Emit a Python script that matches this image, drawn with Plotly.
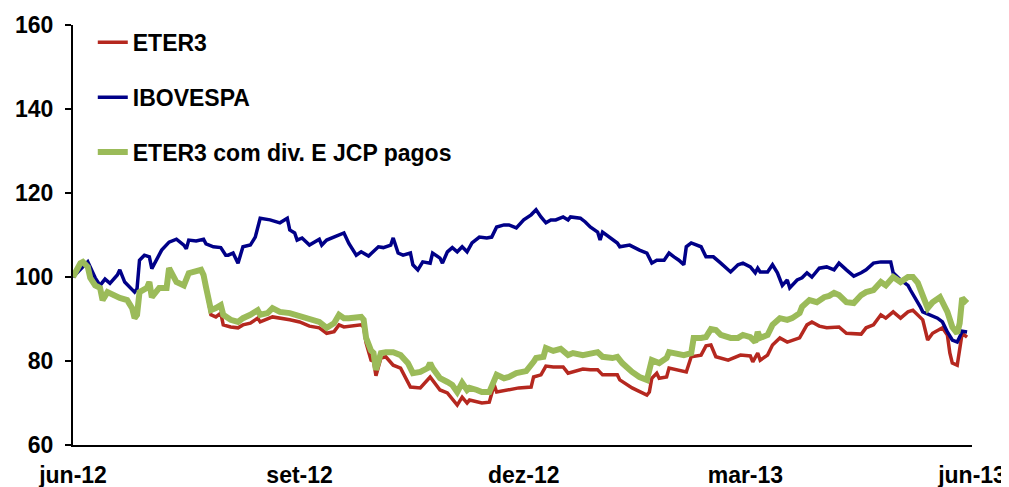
import pandas as pd
import plotly.graph_objects as go

START = "2012-06-01"

# ETER3 with dividends and JCP paid (green) - days since START, index values
green_days = [0, 3, 4, 6, 7, 9, 11, 12, 14, 16, 19, 22, 24, 25, 26, 27, 30, 31, 32, 35, 38, 39, 41, 42, 45, 46, 47, 52, 53,
              54, 56, 58, 60, 61, 64, 67, 69, 72, 75, 76, 79, 81, 84, 88, 92, 96, 100, 103, 106, 108, 110, 112, 117, 118,
              119, 121, 122, 123, 125, 127, 130, 133, 136, 138, 141, 144, 145, 146, 149, 152, 154, 156, 158, 160, 161,
              164, 166, 169, 171, 172, 175, 177, 180, 184, 187, 188, 191, 192, 195, 198, 201, 203, 207, 210, 213, 215,
              219, 221, 223, 227, 230, 233, 234, 235, 238, 241, 242, 245, 248, 251, 252, 255, 257, 259, 261, 263, 267,
              270, 272, 275, 277, 278, 279, 282, 284, 287, 290, 292, 295, 296, 299, 302, 305, 307, 309, 311, 314, 317,
              320, 322, 325, 328, 330, 333, 336, 339, 341, 343, 345, 347, 349, 352, 355, 357, 359, 360, 361, 363]
green_vals = [100, 103.3, 103.6, 102.4, 99.8, 98, 97.4, 94.5, 96.4, 95.7, 95, 94.5, 92.6, 90.2, 91, 96.4, 97.4, 98.8, 95.2,
              97.4, 97.4, 102.1, 100, 98.8, 98, 99.8, 100.9, 101.7, 100.5,
              97.6, 92.1, 92.6, 93.3, 91, 89.8, 89.3, 90.2, 91, 92.1, 91, 91.4, 92.6, 91.7, 91.4, 90.7, 90.2, 89.3, 87.9,
              89, 91, 90.2, 90.2, 90.5, 89.8,
              85.5, 82.5, 81.9, 77.9, 81.9, 82.1, 82.1, 81.4, 79.5, 77.1, 77.4, 78.3, 79.5, 78.3, 75.9, 75, 74.3, 72.6,
              74.8, 73.1, 73.6, 73.1, 72.6, 72.6, 75.5, 76.7, 75.9, 76.2, 77.1, 77.6, 79.8, 80.7, 81, 83.1, 82.4, 82.9,
              81.4, 81.9, 81.4, 81.9, 82.1, 81, 80.7, 81, 79.5, 77.4, 76.2, 75.5, 77.4, 80.2, 79.5, 80.7, 82.1, 81.9,
              81.4, 81.9, 85.5, 85.5, 85.7, 87.6, 87.4, 86.2, 85.5, 85.5, 86.2, 85.7, 84.5, 86.9, 85.5, 86.2, 88.6, 90.2,
              89.8, 90.2, 91.4, 92.9, 94.5, 94, 95.2, 95.5, 96.2, 95.7, 94, 93.8, 95.7, 96.4, 96.9, 98.8, 98, 100, 98.8,
              100, 100, 98.6, 95.7, 92.6, 94, 95.2, 91.7, 88.1, 86.6, 89, 95, 93.8]

# ETER3 (red)
eter3_days = [0, 3, 4, 6, 7, 9, 11, 12, 14, 16, 19, 22, 24, 25, 26, 27, 30, 31, 32, 35, 38, 39, 41, 42, 45, 46, 47, 52, 53,
              54, 56, 58, 60, 61, 64, 67, 69, 72, 75, 76, 81, 88, 92, 96, 100, 103, 106, 108, 110, 117, 118, 119, 121,
              122, 123, 125, 127, 130, 133, 137, 141, 145, 149, 152, 156, 158, 160, 161, 166, 169, 171, 172, 177, 181,
              186, 187, 190, 192, 195, 199, 201, 205, 207, 210, 213, 215, 221, 222, 227, 233, 234, 235, 237, 238, 241,
              242, 246, 249, 251, 255, 257, 259, 261, 266, 271, 275, 276, 278, 279, 282, 284, 287, 290, 295, 298, 300,
              303, 306, 311, 314, 320, 322, 325, 328, 330, 333, 336, 339, 341, 343, 345, 347, 349, 353, 355, 356, 357,
              359, 360, 361, 363]
eter3_vals = [100, 103.3, 103.6, 102.4, 99.8, 98, 97.4, 94.5, 96.4, 95.7, 95, 94.5, 92.6, 90.2, 91, 96.4, 97.4, 98.8, 95.2,
              97.4, 97.4, 102.1, 100, 98.8, 98, 99.8, 100.9, 101.7, 100.5,
              97, 91, 90.5, 91.4, 88.6, 88.1, 87.9, 88.6, 89, 90.2, 89.3, 90.5, 89.8, 89.3, 88.3, 87.9, 86.6, 87, 88.6,
              88.1, 88.6, 88.1, 84.3, 80.2, 80, 76.5, 80.7, 81, 79, 78.3, 73.8, 73.6, 76.2, 73.1, 72.4, 69.5, 71.4, 70,
              70.7, 70, 70.2, 74.3, 72.6, 73.1, 73.6, 73.8, 76.2, 76.7, 78.8, 78.6, 78.6, 77.1, 77.9, 78.1, 77.9, 77.9,
              76.7, 76.7, 75.5, 73.6, 71.9, 72.6, 75.9, 77.1, 75.9, 76.2, 78.3, 77.9, 77.4, 81, 81.4, 83.6, 83.8, 81,
              80.2, 81.4, 81.2, 79.8, 81.9, 80.2, 81.4, 83.8, 85.5, 84.5, 85.5, 88.6, 89.3, 88.3, 87.9, 88.1, 86.6,
              86.4, 87.9, 88.6, 91, 90.2, 91.7, 90.2, 91.7, 92.1, 91, 89.8, 85, 86.6, 87.9, 86.2, 81.9, 79.5, 79, 83.3,
              86.6, 85.7]

# IBOVESPA (blue)
ibov_days = [0, 6, 9, 11, 13, 15, 18, 19, 21, 23, 25, 26, 27, 29, 31, 32, 34, 36, 39, 42, 45, 46, 47, 50, 53, 54, 57, 60,
             62, 63, 65, 67, 69, 72, 74, 76, 80, 84, 87, 88, 90, 91, 93, 96, 100, 101, 103, 108, 110, 112, 115, 117, 120,
             124, 126, 129, 130, 132, 134, 137, 138, 140, 142, 145, 146, 149, 150, 152, 154, 156, 158, 160, 162, 165,
             168, 170, 172, 175, 177, 180, 183, 186, 188, 190, 192, 194, 196, 199, 201, 202, 206, 208, 210, 213, 214,
             215, 218, 221, 222, 226, 230, 233, 235, 237, 240, 242, 244, 246, 248, 249, 251, 255, 257, 260, 263, 267,
             270, 272, 275, 277, 278, 279, 282, 284, 286, 288, 290, 291, 294, 296, 298, 300, 303, 306, 309, 311, 314,
             317, 320, 322, 325, 328, 332, 333, 336, 339, 340, 342, 344, 345, 348, 351, 353, 355, 357, 359, 360, 361,
             363]
ibov_vals = [100, 103.6, 99.8, 98, 99.5, 98.5, 100.5, 101.7, 98.8, 97.6, 96.4, 97.2, 104, 105.2, 104.8, 102, 104, 106.4,
             108.3, 109, 107.6, 106.7, 108.8, 108.6, 109, 107.9, 107.2, 107, 105.2, 105.2, 105.7, 103.3, 107.2, 107.6,
             109.5, 114, 113.6, 112.9, 114, 111.2, 110.5, 108.8, 109.3, 107.6, 109, 107.6, 108.8, 110, 110.5, 108,
             105.2, 106, 105, 107.2, 107, 107.6, 109.3, 105.7, 105.2, 105.7, 102.9, 101.7, 103.6, 103.3, 105.7, 104.5,
             103.3, 106, 107, 106, 107.2, 106, 108.1, 109.5, 109.3, 109.5, 111.9, 112.4, 112.4, 111.7, 113.6, 114.8,
             116, 114.3, 112.9, 113.6, 113.6, 114.3, 113.6, 114.3, 114, 113.1, 111.9, 110.7, 108.8, 110.7, 109.5,
             108.1, 107.2, 107.6, 106.4, 105.7, 103.3, 104, 104, 105.7, 104.8, 104, 102.9, 107.2, 108.1, 107.2, 104.8,
             104.8, 103.3, 101.2, 102.9, 103.3, 102.4, 101, 102.1, 101.2, 101.2, 102.9, 101, 98, 99.3, 97.4, 99.3,
             99.8, 101, 100, 102.1, 102.4, 101.7, 103.3, 101.7, 100.2, 101, 101.7, 103.3, 103.6, 103.6, 101, 99.3, 98,
             96.9, 95, 92.9, 91.7, 91, 90.2, 89.3, 86.9, 85, 84.5, 85.7, 87.1, 86.9]

tick_dates = ["2012-06-01", "2012-09-01", "2012-12-01", "2013-03-01", "2013-06-01"]
tick_labels = ["jun-12", "set-12", "dez-12", "mar-13", "jun-13"]
y_ticks = [60, 80, 100, 120, 140, 160]


def to_dates(days):
    return pd.Timestamp(START) + pd.to_timedelta(days, unit="D")


FONT = dict(family="Liberation Sans, Arial, sans-serif", size=23, color="black", weight="bold")

fig = go.Figure()
fig.add_trace(go.Scatter(x=to_dates(eter3_days), y=eter3_vals, mode="lines", name="ETER3",
                         legendgroup="a", line=dict(color="#B5281F", width=3.5)))
fig.add_trace(go.Scatter(x=to_dates(ibov_days), y=ibov_vals, mode="lines", name="IBOVESPA",
                         legendgroup="b", line=dict(color="#000088", width=3.5)))
fig.add_trace(go.Scatter(x=to_dates(green_days), y=green_vals, mode="lines", name="ETER3 com div. E JCP pagos",
                         legendgroup="c", line=dict(color="#9BBB59", width=6)))

# page body adds an 8px offset; the figure is sized to fill the rest of the window
fig.update_layout(
    width=1001, height=479,
    margin=dict(l=65, r=37, t=17, b=42),
    paper_bgcolor="white", plot_bgcolor="white",
    font=FONT,
    showlegend=True,
    legend=dict(x=0.022, y=1.01, xanchor="left", yanchor="top", bgcolor="rgba(0,0,0,0)",
                font=FONT, tracegroupgap=22, traceorder="grouped"),
    xaxis=dict(type="date", range=["2012-06-01", "2013-06-01"], tickvals=tick_dates, ticktext=tick_labels,
               showgrid=False, zeroline=False, showline=True, linecolor="black", linewidth=2,
               ticks="", ticklabelstandoff=8, tickfont=FONT, automargin=False),
    yaxis=dict(range=[60, 160], tickvals=y_ticks, showgrid=False, zeroline=False, showline=True,
               linecolor="black", linewidth=2, ticks="outside", ticklen=6, tickwidth=2, tickcolor="black",
               ticklabelstandoff=7, tickfont=FONT, automargin=False),
)

fig.write_html("out.html")
